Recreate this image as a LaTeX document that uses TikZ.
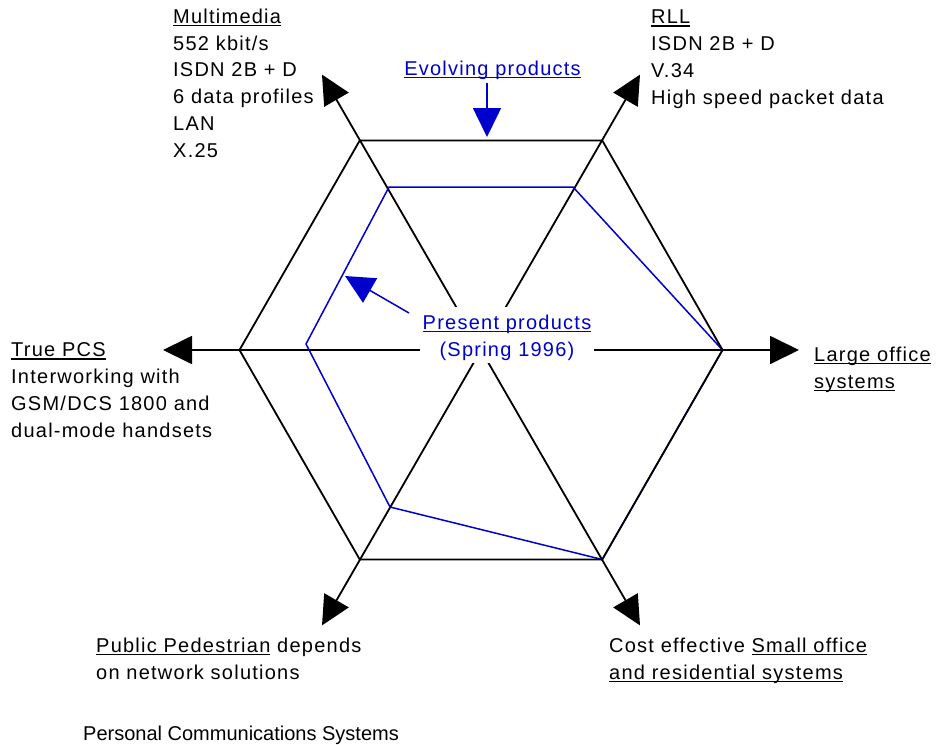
\documentclass[tikz,border=0pt]{standalone}
\usepackage{fontspec}
\setmainfont{Liberation Sans}
\newfontfamily\spacedfont[LetterSpace=6.2]{Liberation Sans}
\usetikzlibrary{arrows.meta}
\definecolor{pblue}{RGB}{0,0,204}
\newsavebox\ulbox
\newcommand\ulx[1]{\sbox\ulbox{#1}\rlap{\vrule height -1.5pt depth 2.6pt width \wd\ulbox}\usebox\ulbox}
\begin{document}
\begin{tikzpicture}[x=1pt,y=-1pt,
  axisline/.style={line width=1.8pt, -{Triangle[length=29pt,width=28pt]}},
  hexline/.style={line width=1.8pt, line join=miter},
  presentline/.style={draw=pblue, line width=1.5pt, line join=miter},
  bluearrow/.style={draw=pblue, fill=pblue, line width=1.5pt, -{Triangle[length=29pt,width=28pt]}},
  lbl/.style={font=\spacedfont\fontsize{20pt}{26.7pt}\selectfont, align=left, inner sep=0pt, anchor=base west},
  bluelbl/.style={lbl, text=pblue, align=center, anchor=base},
  titlelbl/.style={font=\fontsize{20pt}{24pt}\selectfont, inner sep=0pt, anchor=base west},
  coverbox/.style={fill=white, draw=none, minimum width=174pt, minimum height=56pt, inner sep=0pt}
]
\useasboundingbox (0,0) rectangle (936,744);
% centre and axis tips
\coordinate (C) at (481,350);
\coordinate (tR) at (799,350);
\coordinate (tL) at (163,350);
\coordinate (tTR) at (640,74.6);
\coordinate (tTL) at (322,74.6);
\coordinate (tBR) at (640,625.4);
\coordinate (tBL) at (322,625.4);
% hexagon vertices
\coordinate (h0) at (722.5,350);
\coordinate (h1) at (602.25,140.5);
\coordinate (h2) at (359.75,140.5);
\coordinate (h3) at (239.5,350);
\coordinate (h4) at (359.75,559.5);
\coordinate (h5) at (602.25,559.5);
% present products polygon
\coordinate (p1) at (389,187);
\coordinate (p2) at (573,187);
\coordinate (p3) at (722.5,350);
\coordinate (p4) at (602.25,559.5);
\coordinate (p5) at (390,507);
\coordinate (p6) at (306,344);
% axes
\foreach \t in {tR,tL,tTR,tTL,tBR,tBL}
  \draw[axisline] (C) -- (\t);
% present products
\draw[presentline] (p1) -- (p2) -- (p3) -- (p4) -- (p5) -- (p6) -- cycle;
% hexagon
\draw[hexline] (h0) -- (h1) -- (h2) -- (h3) -- (h4) -- (h5) -- cycle;
% centre label
\node[coverbox] (pbox) at (507,335) {};
\node[bluelbl] (present) at (507,356) {\ulx{Present products}\\(Spring 1996)};
\coordinate (prstart) at (409,313);
\coordinate (prtip) at (345,276);
\draw[bluearrow] (prstart) -- (prtip);
% evolving products
\node[bluelbl] (evolving) at (492.5,75) {\ulx{Evolving products}};
\coordinate (evtip) at (487,137);
\draw[bluearrow] (evolving.south -| evtip) ++(0,4) -- (evtip);
% outer labels (anchor = baseline of last line)
\node[lbl] (mm) at (173,157) {\ulx{Multimedia}\\552 kbit/s\\ISDN 2B + D\\6 data profiles\\LAN\\X.25};
\node[lbl] (rll) at (651,104) {\ulx{RLL}\\ISDN 2B + D\\V.34\\High speed packet data};
\node[lbl] (pcs) at (11,437) {\ulx{True PCS}\\Interworking with\\GSM/DCS 1800 and\\dual-mode handsets};
\node[lbl] (large) at (814,388) {\ulx{Large office}\\\ulx{systems}};
\node[lbl] (ped) at (96,679) {\ulx{Public Pedestrian} depends\\on network solutions};
\node[lbl] (cost) at (609,679) {Cost effective \ulx{Small office}\\\ulx{and residential systems}};
\node[titlelbl] (title) at (83,740) {Personal Communications Systems};
\end{tikzpicture}
\end{document}
